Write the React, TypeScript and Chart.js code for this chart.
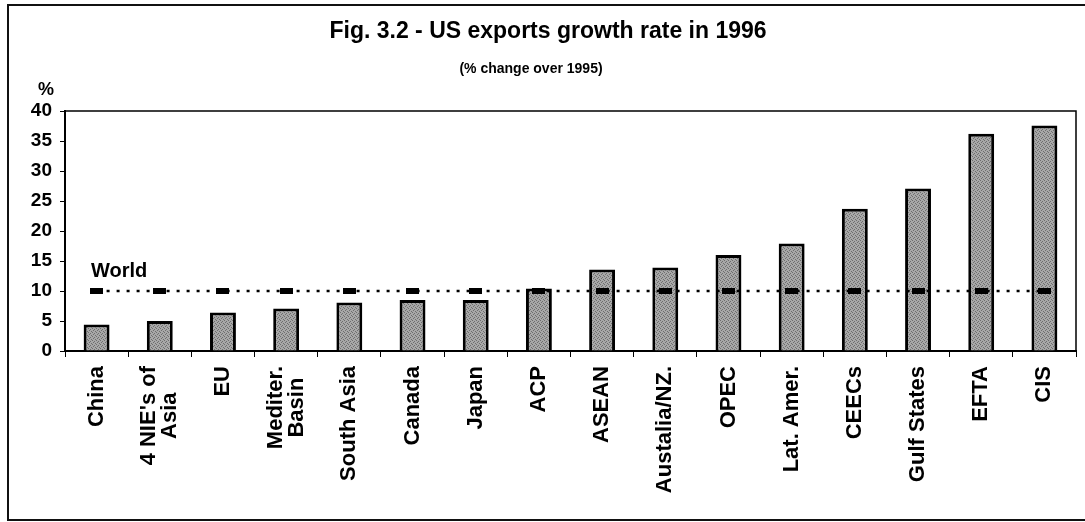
import React, { useEffect, useRef } from 'react';
import { Chart, registerables } from 'chart.js';

Chart.register(...registerables);

const categories: (string | string[])[] = [
  'China',
  ["4 NIE's of", 'Asia'],
  'EU',
  ['Mediter.', 'Basin'],
  'South Asia',
  'Canada',
  'Japan',
  'ACP',
  'ASEAN',
  'Austalia/NZ.',
  'OPEC',
  'Lat. Amer.',
  'CEECs',
  'Gulf States',
  'EFTA',
  'CIS',
];
const growth = [4.4, 5.0, 6.4, 7.1, 8.1, 8.5, 8.5, 10.4, 13.6, 13.9, 16.0, 17.9, 23.7, 27.1, 36.2, 37.6];
const worldRate = 10;
const yMin = 0;
const yMax = 40;
const yStep = 5;
const titleText = 'Fig. 3.2 - US exports growth rate in 1996';
const subtitleText = '(% change over 1995)';
const yUnit = '%';
const worldLabel = 'World';

const FONT = '"Liberation Sans", Arial, Helvetica, sans-serif';

export default function App() {
  const ref = useRef<HTMLCanvasElement | null>(null);

  useEffect(() => {
    const canvas = ref.current;
    if (!canvas) return;

    // stippled gray fill for bars
    const pc = document.createElement('canvas');
    pc.width = 4;
    pc.height = 4;
    const p = pc.getContext('2d')!;
    p.fillStyle = '#a8a8a8';
    p.fillRect(0, 0, 4, 4);
    p.fillStyle = '#6e6e6e';
    [[0, 0], [2, 1], [1, 2], [3, 3]].forEach(([x, y]) => p.fillRect(x, y, 1, 1));
    const ctx0 = canvas.getContext('2d')!;
    const pattern = ctx0.createPattern(pc, 'repeat')!;

    // world marker (thick short dash)
    const mk = document.createElement('canvas');
    mk.width = 13;
    mk.height = 6;
    const m = mk.getContext('2d')!;
    m.fillStyle = '#000';
    m.fillRect(0, 0, 13, 6);

    const decor = {
      id: 'decor',
      beforeDraw(chart: any) {
        const c = chart.ctx;
        c.save();
        c.fillStyle = '#fff';
        c.fillRect(0, 0, chart.width, chart.height);
        c.restore();
      },
      afterDraw(chart: any) {
        const c = chart.ctx;
        const a = chart.chartArea;
        const xs = chart.scales.x;
        c.save();
        // outer frame
        c.strokeStyle = '#111';
        c.lineWidth = 2;
        c.strokeRect(8, 5, 1100, 515);
        // plot frame top + right
        c.lineWidth = 1.5;
        c.strokeStyle = '#000';
        c.beginPath();
        c.moveTo(a.left, a.top);
        c.lineTo(a.right, a.top);
        c.lineTo(a.right, a.bottom);
        c.stroke();
        // texts
        c.fillStyle = '#000';
        c.textBaseline = 'alphabetic';
        c.textAlign = 'center';
        c.font = `bold 23px ${FONT}`;
        c.fillText(titleText, 548, 38);
        c.font = `bold 14px ${FONT}`;
        c.fillText(subtitleText, 531, 73);
        c.font = `bold 18px ${FONT}`;
        c.fillText(yUnit, 46, 95);
        c.textAlign = 'left';
        c.font = `bold 20px ${FONT}`;
        c.fillText(worldLabel, 91, 277);
        // category labels, rotated, multi-line centred
        c.font = `bold 22px ${FONT}`;
        const labelTop = a.bottom + 15;
        const lh = 21;
        categories.forEach((lab, i) => {
          const lines = Array.isArray(lab) ? lab : [lab];
          const x = xs.getPixelForValue(i);
          const maxW = Math.max(...lines.map((l) => c.measureText(l).width));
          lines.forEach((ln, j) => {
            const dx = (j - (lines.length - 1) / 2) * lh;
            c.save();
            c.translate(x + dx, labelTop + maxW / 2);
            c.rotate(-Math.PI / 2);
            c.textAlign = 'center';
            c.textBaseline = 'middle';
            c.fillText(ln, 0, 0);
            c.restore();
          });
        });
        c.restore();
      },
    };

    const chart = new Chart(canvas, {
      type: 'bar',
      data: {
        labels: categories,
        datasets: [
          {
            type: 'line',
            data: categories.map(() => worldRate),
            borderColor: '#000',
            borderWidth: 2.5,
            borderDash: [3, 7],
            pointStyle: mk as any,
            pointRadius: 6,
            pointHoverRadius: 6,
            fill: false,
            order: 0,
          } as any,
          {
            type: 'bar',
            data: growth,
            backgroundColor: pattern as any,
            borderColor: '#000',
            borderWidth: 3,
            barPercentage: 0.41,
            categoryPercentage: 1,
            order: 1,
          } as any,
        ],
      },
      options: {
        animation: false,
        responsive: false,
        maintainAspectRatio: false,
        events: [],
        layout: { padding: { top: 111, left: 8, right: 9, bottom: 0 } },
        plugins: {
          legend: { display: false },
          tooltip: { enabled: false },
          title: { display: false },
        },
        scales: {
          x: {
            offset: true,
            grid: {
              offset: true,
              drawOnChartArea: false,
              drawTicks: true,
              tickLength: 6,
              color: '#000',
              lineWidth: 1,
            },
            border: { color: '#000', width: 2 },
            ticks: {
              display: false,
              autoSkip: false,
            },
            afterFit(scale: any) {
              scale.height = 171;
            },
          },
          y: {
            min: yMin,
            max: yMax,
            ticks: {
              stepSize: yStep,
              padding: 8,
              color: '#000',
              font: { family: FONT, size: 19, weight: 'bold' },
            },
            grid: {
              drawOnChartArea: false,
              drawTicks: true,
              tickLength: 5,
              color: '#000',
              lineWidth: 1,
            },
            border: { color: '#000', width: 2 },
            afterFit(scale: any) {
              scale.width = 57;
            },
          },
        },
      },
      plugins: [decor],
    });

    return () => chart.destroy();
  }, []);

  return (
    <div style={{ position: 'absolute', left: 0, top: 0, width: 1085, height: 522 }}>
      <canvas ref={ref} width={1085} height={522} style={{ display: 'block', width: 1085, height: 522 }} />
    </div>
  );
}
